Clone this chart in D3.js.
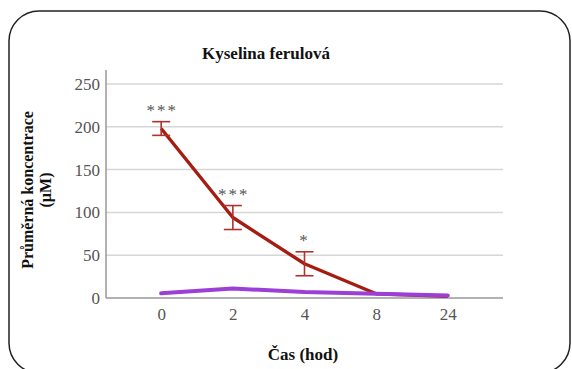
<!DOCTYPE html>
<html>
<head>
<meta charset="utf-8">
<script src="https://cdn.jsdelivr.net/npm/d3@7"></script>
<style>
  html, body { margin: 0; padding: 0; background: #fff; }
  svg { display: block; }
</style>
</head>
<body>
<svg id="chart" width="572" height="369"></svg>
<script>
const categories = ['0', '2', '4', '8', '24']
const ferulicMean = [198, 94, 40, 5, 2]
const ferulicErr = [8, 14, 14, null, null]
const ferulicStars = ['***', '***', '*', '', '']
const controlMean = [5.5, 11, 7, 5, 3]
const yTicks = [0, 50, 100, 150, 200, 250]

const FONT = 'Liberation Serif'
const W = 572, H = 369
const M = { top: 84, right: 69, bottom: 71, left: 106 }
const cW = W - M.left - M.right
const cH = H - M.top - M.bottom

const svg = d3.select('#chart').attr('font-family', FONT)

// rounded frame
svg.append('rect')
  .attr('x', 9).attr('y', 11)
  .attr('width', 561).attr('height', 362)
  .attr('rx', 30).attr('ry', 30)
  .attr('fill', '#fff')
  .attr('stroke', '#222')
  .attr('stroke-width', 1.5)

const x = d3.scalePoint().domain(categories).range([0, cW]).padding(0.77)
const y = d3.scaleLinear().domain([0, 250]).range([cH, 0])

const g = svg.append('g').attr('transform', `translate(${M.left},${M.top})`)

// gridlines
g.append('g')
  .selectAll('line')
  .data(yTicks.filter(d => d > 0))
  .join('line')
  .attr('x1', 0).attr('x2', cW)
  .attr('y1', d => y(d)).attr('y2', d => y(d))
  .attr('stroke', '#d6d6d6')
  .attr('stroke-width', 1.5)

// axes
const yAxis = g.append('g').call(d3.axisLeft(y).tickValues(yTicks).tickSize(0).tickPadding(6))
yAxis.attr('font-family', FONT)
yAxis.select('.domain').remove()
yAxis.selectAll('text').attr('font-size', 17).attr('fill', '#555').attr('font-family', FONT)

g.append('line')
  .attr('x1', 0).attr('x2', 0).attr('y1', -14).attr('y2', cH)
  .attr('stroke', '#999').attr('stroke-width', 1.5)

const xAxis = g.append('g').attr('transform', `translate(0,${cH})`)
  .call(d3.axisBottom(x).tickSize(0).tickPadding(10))
xAxis.attr('font-family', FONT)
xAxis.select('.domain').attr('stroke', '#999').attr('stroke-width', 1.5)
  .attr('d', `M0,0H${cW}`)
xAxis.selectAll('text').attr('font-size', 17).attr('fill', '#555').attr('font-family', FONT)

// ferulic acid line
const line = d3.line().x((d, i) => x(categories[i])).y(d => y(d))
g.append('path')
  .datum(ferulicMean)
  .attr('d', line)
  .attr('fill', 'none')
  .attr('stroke', '#a51d12')
  .attr('stroke-width', 3.4)
  .attr('stroke-linejoin', 'round')

// error bars
const eb = g.append('g').attr('stroke', '#b0322a').attr('stroke-width', 1.6).attr('fill', 'none')
ferulicMean.forEach((m, i) => {
  const e = ferulicErr[i]
  if (e == null) return
  const cx = x(categories[i])
  eb.append('line').attr('x1', cx).attr('x2', cx).attr('y1', y(m + e)).attr('y2', y(m - e))
  eb.append('line').attr('x1', cx - 9).attr('x2', cx + 9).attr('y1', y(m + e)).attr('y2', y(m + e))
  eb.append('line').attr('x1', cx - 9).attr('x2', cx + 9).attr('y1', y(m - e)).attr('y2', y(m - e))
})

// significance stars
g.append('g')
  .selectAll('text')
  .data(ferulicMean.map((m, i) => ({ m, e: ferulicErr[i] || 0, s: ferulicStars[i], c: categories[i] })).filter(d => d.s))
  .join('text')
  .attr('x', d => x(d.c) + (d.s.length > 1 ? 1 : 0))
  .attr('y', d => y(d.m + d.e) - 6)
  .attr('text-anchor', 'middle')
  .attr('font-family', FONT)
  .attr('font-size', 17)
  .attr('fill', '#555')
  .attr('letter-spacing', 2)
  .text(d => d.s)

// control line
g.append('path')
  .datum(controlMean)
  .attr('d', line)
  .attr('fill', 'none')
  .attr('stroke', '#9b3fd6')
  .attr('stroke-width', 4)
  .attr('stroke-linejoin', 'round')
  .attr('stroke-linecap', 'round')

// titles
svg.append('text')
  .attr('x', 266).attr('y', 59)
  .attr('text-anchor', 'middle')
  .attr('font-family', FONT)
  .attr('font-size', 17).attr('font-weight', 'bold').attr('fill', '#111')
  .text('Kyselina ferulová')

svg.append('text')
  .attr('x', 303).attr('y', 360)
  .attr('text-anchor', 'middle')
  .attr('font-family', FONT)
  .attr('font-size', 17).attr('font-weight', 'bold').attr('fill', '#111')
  .text('Čas (hod)')

const yl = svg.append('text')
  .attr('transform', 'translate(33,190) rotate(-90)')
  .attr('text-anchor', 'middle')
  .attr('font-family', FONT)
  .attr('font-size', 16).attr('font-weight', 'bold').attr('fill', '#111')
yl.append('tspan').attr('x', 0).attr('dy', 0).text('Průměrná koncentrace')
yl.append('tspan').attr('x', 0).attr('dy', 18).text('(µM)')
</script>
</body>
</html>
